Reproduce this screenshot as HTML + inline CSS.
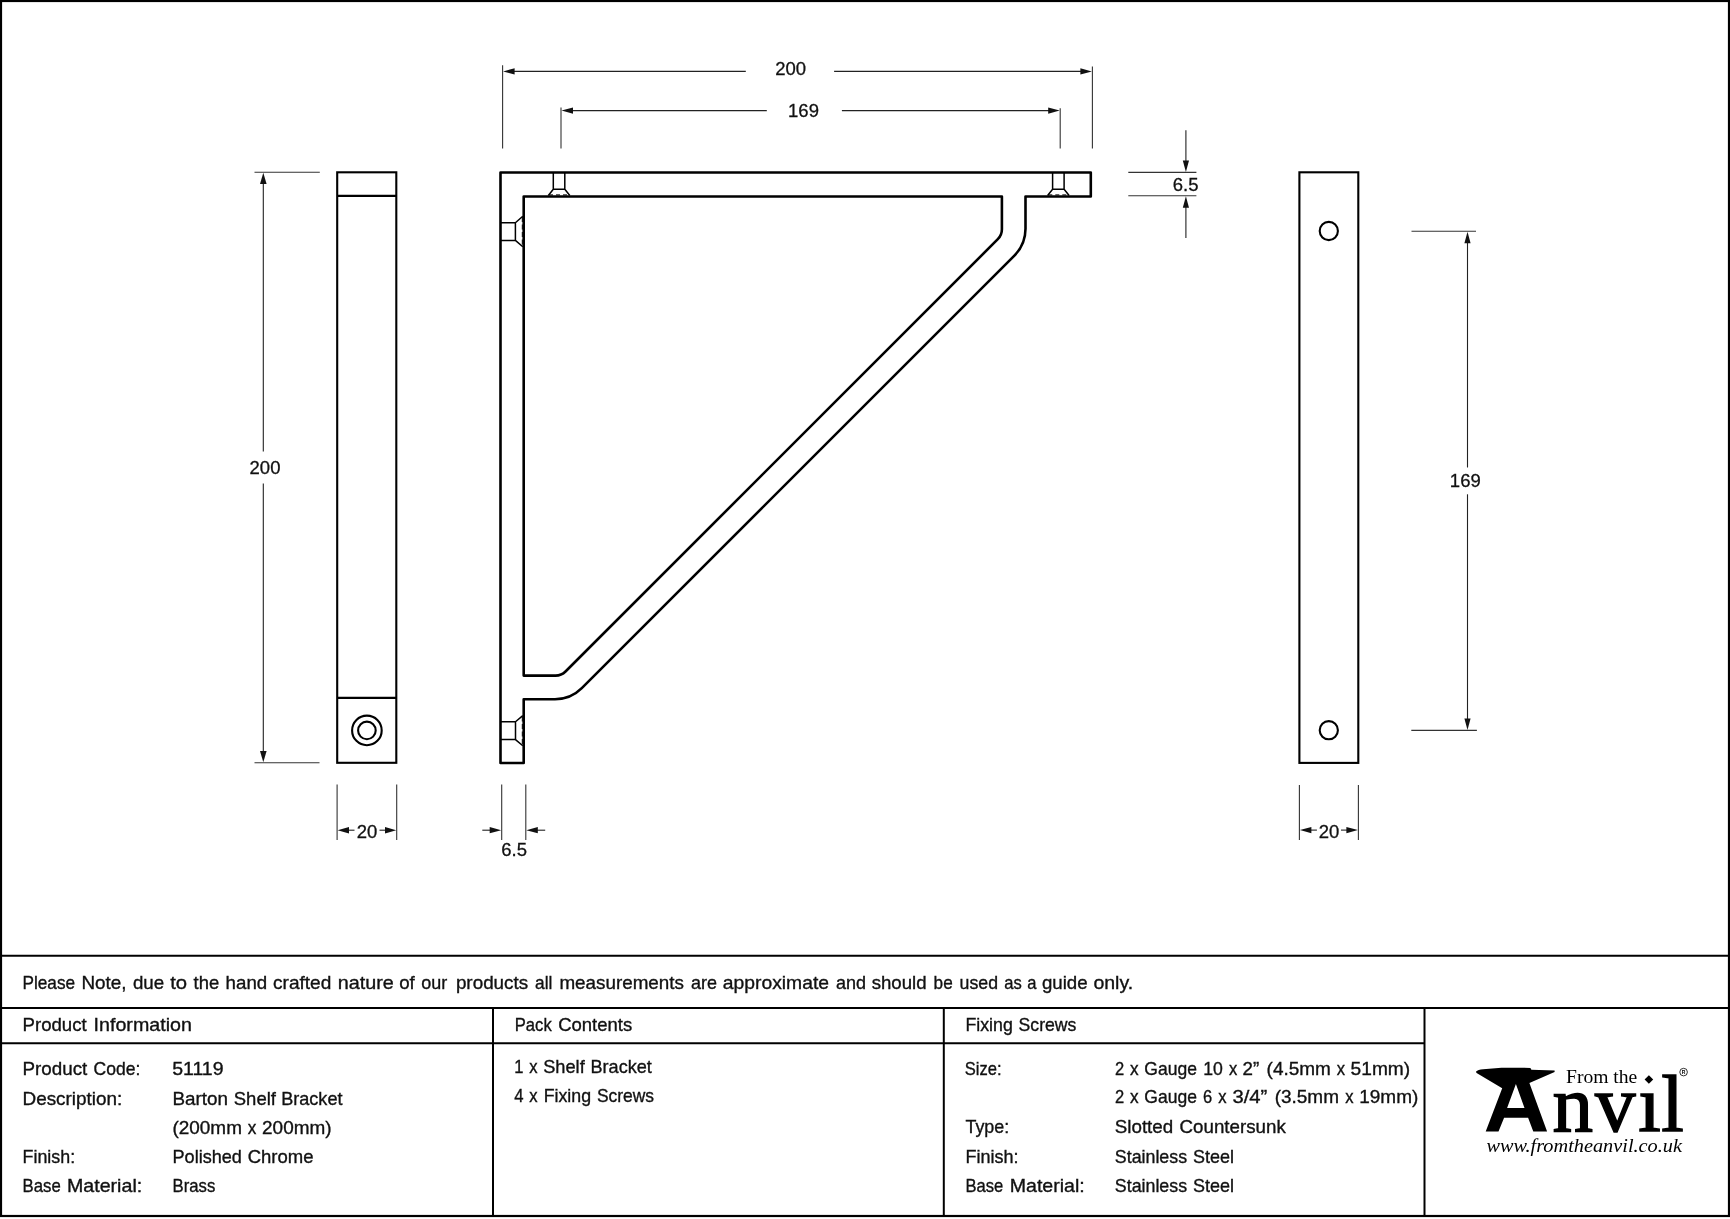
<!DOCTYPE html>
<html><head><meta charset="utf-8"><title>Barton Shelf Bracket</title>
<style>
html,body{margin:0;padding:0;background:#fff;width:1730px;height:1219px;overflow:hidden}
svg{display:block;will-change:transform}
text{font-family:"Liberation Sans",sans-serif;fill:#111}
.dim{stroke:#222;stroke-width:1.1;fill:none}
.ext{stroke:#333;stroke-width:1.1;fill:none}
.thick{stroke:#000;stroke-width:2.6;fill:none;stroke-linejoin:round}
.med{stroke:#000;stroke-width:2.1;fill:none}
.thin{stroke:#000;stroke-width:1.5;fill:none}
.arr{fill:#111;stroke:none}
.tl{stroke:#000;stroke-width:2;fill:none}
.dt{font-size:18.5px;stroke:#111;stroke-width:0.3}
.tt text{font-size:18.4px;stroke:#111;stroke-width:0.35}
text.sf{font-family:"Liberation Serif",serif;fill:#000}
.big text{font-family:"Liberation Serif",serif;font-size:81px;fill:#000;stroke:#000;stroke-width:1.5}
</style></head>
<body>
<svg width="1730" height="1219" viewBox="0 0 1730 1219">
<!-- outer frame -->
<rect x="1" y="1" width="1728" height="1215" fill="none" stroke="#000" stroke-width="2.2"/>

<!-- ===== Left side view ===== -->
<g id="leftview">
<rect class="med" x="337.2" y="172.3" width="59.1" height="590.5"/>
<line class="med" x1="337.2" y1="195.9" x2="396.3" y2="195.9"/>
<line class="med" x1="337.2" y1="697.9" x2="396.3" y2="697.9"/>
<circle class="med" cx="366.9" cy="730.4" r="14.8"/>
<circle class="med" cx="366.9" cy="730.4" r="8.8"/>
<!-- 200 vertical dim -->
<line class="ext" x1="254.5" y1="172.3" x2="319.8" y2="172.3"/>
<line class="ext" x1="254.5" y1="762.7" x2="319.5" y2="762.7"/>
<line class="dim" x1="263.3" y1="180" x2="263.3" y2="451.6"/>
<line class="dim" x1="263.3" y1="483.6" x2="263.3" y2="755"/>
<path class="arr" d="M263.3,172.8 L266.6,184 L260,184 Z"/>
<path class="arr" d="M263.3,762.2 L266.6,751 L260,751 Z"/>
<text class="dt" x="265" y="474" text-anchor="middle">200</text>
<!-- 20 dim -->
<line class="ext" x1="337.1" y1="784.5" x2="337.1" y2="840"/>
<line class="ext" x1="396.7" y1="784.5" x2="396.7" y2="840"/>
<line class="dim" x1="345" y1="830.2" x2="354.5" y2="830.2"/>
<line class="dim" x1="379.5" y1="830.2" x2="389" y2="830.2"/>
<path class="arr" d="M337.6,830.2 L349,827 L349,833.4 Z"/>
<path class="arr" d="M396.2,830.2 L385,827 L385,833.4 Z"/>
<text class="dt" x="367" y="837.6" text-anchor="middle">20</text>
</g>

<!-- ===== Main bracket ===== -->
<g id="bracket">
<path class="thick" d="M500.5,172.5 H1090.8 V196.5 H1025.5 V228.8 A38,38 0 0 1 1014.4,255.6 L581.8,688.2 A38,38 0 0 1 555,699.3 H523.7 V763 H500.5 Z"/>
<path class="thick" d="M523.7,196.5 H1001.9 V229.3 A14,14 0 0 1 997.8,239.2 L565.5,671.5 A14,14 0 0 1 555.6,675.6 H523.7 Z"/>
<!-- top screws -->
<path class="thin" d="M553.3,172.5 V189.3 H564.8 V172.5 M553.3,189.3 L548.3,195.5 M564.8,189.3 L569.8,195.5"/>
<line class="thin" x1="549" y1="194.9" x2="569" y2="194.9" stroke-dasharray="4,3" style="stroke-width:1"/>
<path class="thin" d="M1052.6,172.5 V189.3 H1064.1 V172.5 M1052.6,189.3 L1047.6,195.5 M1064.1,189.3 L1069.1,195.5"/>
<line class="thin" x1="1048.3" y1="194.9" x2="1068.3" y2="194.9" stroke-dasharray="4,3" style="stroke-width:1"/>
<!-- side screws -->
<path class="thin" d="M500.5,222.8 H515.4 V240.4 H500.5 M515.4,222.8 L522.8,216.2 M515.4,240.4 L522.8,246.8"/>
<line class="thin" x1="522.3" y1="217" x2="522.3" y2="246" stroke-dasharray="5,2.5" style="stroke-width:1"/>
<path class="thin" d="M500.5,721.8 H515.5 V739.6 H500.5 M515.5,721.8 L522.8,715.6 M515.5,739.6 L522.8,745.8"/>
<line class="thin" x1="522.3" y1="716.5" x2="522.3" y2="745" stroke-dasharray="5,2.5" style="stroke-width:1"/>
<!-- 200 top dim -->
<line class="ext" x1="502.6" y1="65.3" x2="502.6" y2="148.5"/>
<line class="ext" x1="1092.4" y1="66.5" x2="1092.4" y2="148.5"/>
<line class="dim" x1="510" y1="71.4" x2="745.8" y2="71.4"/>
<line class="dim" x1="834.1" y1="71.4" x2="1085" y2="71.4"/>
<path class="arr" d="M503.1,71.4 L514.6,68.3 L514.6,74.5 Z"/>
<path class="arr" d="M1091.9,71.4 L1080.4,68.3 L1080.4,74.5 Z"/>
<text class="dt" x="790.7" y="74.8" text-anchor="middle">200</text>
<!-- 169 top dim -->
<line class="ext" x1="561" y1="107.5" x2="561" y2="148.5"/>
<line class="ext" x1="1060.2" y1="108.3" x2="1060.2" y2="148.5"/>
<line class="dim" x1="568" y1="110.6" x2="766.8" y2="110.6"/>
<line class="dim" x1="841.9" y1="110.6" x2="1053" y2="110.6"/>
<path class="arr" d="M561.5,110.6 L573,107.5 L573,113.7 Z"/>
<path class="arr" d="M1059.7,110.6 L1048.2,107.5 L1048.2,113.7 Z"/>
<text class="dt" x="803.5" y="116.9" text-anchor="middle">169</text>
<!-- 6.5 right dim -->
<line class="ext" x1="1128.3" y1="172.4" x2="1196.4" y2="172.4"/>
<line class="ext" x1="1128.3" y1="195.8" x2="1196.4" y2="195.8"/>
<line class="dim" x1="1185.9" y1="130.3" x2="1185.9" y2="165"/>
<line class="dim" x1="1185.9" y1="203" x2="1185.9" y2="238"/>
<path class="arr" d="M1185.9,171.9 L1182.8,160.4 L1189,160.4 Z"/>
<path class="arr" d="M1185.9,196.3 L1182.8,207.8 L1189,207.8 Z"/>
<text class="dt" x="1185.7" y="190.7" text-anchor="middle">6.5</text>
<!-- 6.5 bottom dim -->
<line class="ext" x1="501.7" y1="784.5" x2="501.7" y2="840"/>
<line class="ext" x1="525.8" y1="784.5" x2="525.8" y2="840"/>
<line class="dim" x1="482.3" y1="830.2" x2="495" y2="830.2"/>
<line class="dim" x1="532" y1="830.2" x2="545.2" y2="830.2"/>
<path class="arr" d="M501.2,830.2 L489.7,827.1 L489.7,833.3 Z"/>
<path class="arr" d="M526.3,830.2 L537.8,827.1 L537.8,833.3 Z"/>
<text class="dt" x="514.2" y="855.7" text-anchor="middle">6.5</text>
</g>

<!-- ===== Right view ===== -->
<g id="rightview">
<rect class="med" x="1299.4" y="172.3" width="58.9" height="590.6"/>
<circle class="med" cx="1328.8" cy="231" r="9.1"/>
<circle class="med" cx="1328.8" cy="730.2" r="9.1"/>
<line class="ext" x1="1411.5" y1="231.2" x2="1476" y2="231.2"/>
<line class="ext" x1="1411.3" y1="730.4" x2="1476.9" y2="730.4"/>
<line class="dim" x1="1467.5" y1="240" x2="1467.5" y2="467.5"/>
<line class="dim" x1="1467.5" y1="494.3" x2="1467.5" y2="722"/>
<path class="arr" d="M1467.5,231.7 L1470.6,243.2 L1464.4,243.2 Z"/>
<path class="arr" d="M1467.5,729.9 L1470.6,718.4 L1464.4,718.4 Z"/>
<text class="dt" x="1465.3" y="486.9" text-anchor="middle">169</text>
<line class="ext" x1="1299.4" y1="785" x2="1299.4" y2="840"/>
<line class="ext" x1="1358.4" y1="785" x2="1358.4" y2="840"/>
<line class="dim" x1="1306" y1="830.1" x2="1316.9" y2="830.1"/>
<line class="dim" x1="1341" y1="830.1" x2="1352" y2="830.1"/>
<path class="arr" d="M1299.9,830.1 L1311.4,827 L1311.4,833.2 Z"/>
<path class="arr" d="M1357.9,830.1 L1346.4,827 L1346.4,833.2 Z"/>
<text class="dt" x="1329" y="837.5" text-anchor="middle">20</text>
</g>

<!-- ===== Table ===== -->
<g id="table">
<line class="tl" x1="0" y1="955.8" x2="1730" y2="955.8"/>
<line class="tl" x1="0" y1="1007.9" x2="1730" y2="1007.9"/>
<line class="tl" x1="0" y1="1043.2" x2="1424.5" y2="1043.2"/>
<line class="tl" x1="493" y1="1007.9" x2="493" y2="1216"/>
<line class="tl" x1="943.8" y1="1007.9" x2="943.8" y2="1216"/>
<line class="tl" x1="1424.5" y1="1007.9" x2="1424.5" y2="1216"/>
</g>

<g id="ttext" class="tt">
<text x="22.5" y="988.9" textLength="52.6" lengthAdjust="spacingAndGlyphs">Please</text>
<text x="81.5" y="988.9" textLength="45.1" lengthAdjust="spacingAndGlyphs">Note,</text>
<text x="132.9" y="988.9" textLength="31.2" lengthAdjust="spacingAndGlyphs">due</text>
<text x="170.2" y="988.9" textLength="16.9" lengthAdjust="spacingAndGlyphs">to</text>
<text x="193.6" y="988.9" textLength="25.6" lengthAdjust="spacingAndGlyphs">the</text>
<text x="225.6" y="988.9" textLength="41.6" lengthAdjust="spacingAndGlyphs">hand</text>
<text x="273.0" y="988.9" textLength="58.3" lengthAdjust="spacingAndGlyphs">crafted</text>
<text x="337.7" y="988.9" textLength="56.1" lengthAdjust="spacingAndGlyphs">nature</text>
<text x="399.2" y="988.9" textLength="15.6" lengthAdjust="spacingAndGlyphs">of</text>
<text x="421.2" y="988.9" textLength="26.0" lengthAdjust="spacingAndGlyphs">our</text>
<text x="455.9" y="988.9" textLength="72.3" lengthAdjust="spacingAndGlyphs">products</text>
<text x="535.1" y="988.9" textLength="17.3" lengthAdjust="spacingAndGlyphs">all</text>
<text x="559.4" y="988.9" textLength="124.6" lengthAdjust="spacingAndGlyphs">measurements</text>
<text x="691.0" y="988.9" textLength="26.0" lengthAdjust="spacingAndGlyphs">are</text>
<text x="722.8" y="988.9" textLength="106.2" lengthAdjust="spacingAndGlyphs">approximate</text>
<text x="835.9" y="988.9" textLength="30.1" lengthAdjust="spacingAndGlyphs">and</text>
<text x="871.7" y="988.9" textLength="54.9" lengthAdjust="spacingAndGlyphs">should</text>
<text x="933.6" y="988.9" textLength="19.1" lengthAdjust="spacingAndGlyphs">be</text>
<text x="959.6" y="988.9" textLength="38.4" lengthAdjust="spacingAndGlyphs">used</text>
<text x="1004.3" y="988.9" textLength="17.5" lengthAdjust="spacingAndGlyphs">as</text>
<text x="1027.2" y="988.9" textLength="9.2" lengthAdjust="spacingAndGlyphs">a</text>
<text x="1041.9" y="988.9" textLength="45.7" lengthAdjust="spacingAndGlyphs">guide</text>
<text x="1093.4" y="988.9" textLength="39.8" lengthAdjust="spacingAndGlyphs">only.</text>
<text x="22.5" y="1030.7" textLength="64.2" lengthAdjust="spacingAndGlyphs">Product</text>
<text x="93.6" y="1030.7" textLength="98.3" lengthAdjust="spacingAndGlyphs">Information</text>
<text x="514.8" y="1030.7" textLength="36.9" lengthAdjust="spacingAndGlyphs">Pack</text>
<text x="558.2" y="1030.7" textLength="74.0" lengthAdjust="spacingAndGlyphs">Contents</text>
<text x="965.4" y="1030.8" textLength="47.4" lengthAdjust="spacingAndGlyphs">Fixing</text>
<text x="1018.6" y="1030.8" textLength="57.8" lengthAdjust="spacingAndGlyphs">Screws</text>
<text x="22.5" y="1074.6" textLength="64.8" lengthAdjust="spacingAndGlyphs">Product</text>
<text x="93.6" y="1074.6" textLength="46.8" lengthAdjust="spacingAndGlyphs">Code:</text>
<text x="172.2" y="1074.6" textLength="51.4" lengthAdjust="spacingAndGlyphs">51119</text>
<text x="22.5" y="1104.7" textLength="99.8" lengthAdjust="spacingAndGlyphs">Description:</text>
<text x="172.5" y="1104.7" textLength="55.5" lengthAdjust="spacingAndGlyphs">Barton</text>
<text x="233.8" y="1104.7" textLength="42.1" lengthAdjust="spacingAndGlyphs">Shelf</text>
<text x="281.2" y="1104.7" textLength="61.3" lengthAdjust="spacingAndGlyphs">Bracket</text>
<text x="172.5" y="1133.6" textLength="69.4" lengthAdjust="spacingAndGlyphs">(200mm</text>
<text x="247.7" y="1133.6" textLength="8.6" lengthAdjust="spacingAndGlyphs">x</text>
<text x="262.1" y="1133.6" textLength="69.4" lengthAdjust="spacingAndGlyphs">200mm)</text>
<text x="22.5" y="1162.5" textLength="52.6" lengthAdjust="spacingAndGlyphs">Finish:</text>
<text x="172.5" y="1162.5" textLength="69.4" lengthAdjust="spacingAndGlyphs">Polished</text>
<text x="247.7" y="1162.5" textLength="65.9" lengthAdjust="spacingAndGlyphs">Chrome</text>
<text x="22.5" y="1191.7" textLength="38.2" lengthAdjust="spacingAndGlyphs">Base</text>
<text x="67.0" y="1191.7" textLength="75.2" lengthAdjust="spacingAndGlyphs">Material:</text>
<text x="172.5" y="1191.7" textLength="42.8" lengthAdjust="spacingAndGlyphs">Brass</text>
<text x="514.3" y="1072.6" textLength="9.2" lengthAdjust="spacingAndGlyphs">1</text>
<text x="529.2" y="1072.6" textLength="8.3" lengthAdjust="spacingAndGlyphs">x</text>
<text x="543.2" y="1072.6" textLength="41.5" lengthAdjust="spacingAndGlyphs">Shelf</text>
<text x="590.5" y="1072.6" textLength="61.3" lengthAdjust="spacingAndGlyphs">Bracket</text>
<text x="514.2" y="1101.5" textLength="9.3" lengthAdjust="spacingAndGlyphs">4</text>
<text x="529.2" y="1101.5" textLength="8.3" lengthAdjust="spacingAndGlyphs">x</text>
<text x="543.7" y="1101.5" textLength="47.4" lengthAdjust="spacingAndGlyphs">Fixing</text>
<text x="596.9" y="1101.5" textLength="57.2" lengthAdjust="spacingAndGlyphs">Screws</text>
<text x="964.8" y="1074.6" textLength="36.8" lengthAdjust="spacingAndGlyphs">Size:</text>
<text x="965.5" y="1132.7" textLength="43.7" lengthAdjust="spacingAndGlyphs">Type:</text>
<text x="965.5" y="1162.6" textLength="53.0" lengthAdjust="spacingAndGlyphs">Finish:</text>
<text x="965.5" y="1191.9" textLength="37.8" lengthAdjust="spacingAndGlyphs">Base</text>
<text x="1009.7" y="1191.9" textLength="75.1" lengthAdjust="spacingAndGlyphs">Material:</text>
<text x="1114.9" y="1074.8" textLength="9.2" lengthAdjust="spacingAndGlyphs">2</text>
<text x="1129.9" y="1074.8" textLength="8.6" lengthAdjust="spacingAndGlyphs">x</text>
<text x="1144.3" y="1074.8" textLength="52.6" lengthAdjust="spacingAndGlyphs">Gauge</text>
<text x="1203.3" y="1074.8" textLength="19.6" lengthAdjust="spacingAndGlyphs">10</text>
<text x="1228.9" y="1074.8" textLength="8.3" lengthAdjust="spacingAndGlyphs">x</text>
<text x="1242.6" y="1074.8" textLength="16.7" lengthAdjust="spacingAndGlyphs">2&#8221;</text>
<text x="1266.6" y="1074.8" textLength="64.3" lengthAdjust="spacingAndGlyphs">(4.5mm</text>
<text x="1336.8" y="1074.8" textLength="8.3" lengthAdjust="spacingAndGlyphs">x</text>
<text x="1350.6" y="1074.8" textLength="59.6" lengthAdjust="spacingAndGlyphs">51mm)</text>
<text x="1114.9" y="1103.4" textLength="9.2" lengthAdjust="spacingAndGlyphs">2</text>
<text x="1129.9" y="1103.4" textLength="8.6" lengthAdjust="spacingAndGlyphs">x</text>
<text x="1144.3" y="1103.4" textLength="52.6" lengthAdjust="spacingAndGlyphs">Gauge</text>
<text x="1203.0" y="1103.4" textLength="9.2" lengthAdjust="spacingAndGlyphs">6</text>
<text x="1218.2" y="1103.4" textLength="8.3" lengthAdjust="spacingAndGlyphs">x</text>
<text x="1232.4" y="1103.4" textLength="34.9" lengthAdjust="spacingAndGlyphs">3/4&#8221;</text>
<text x="1274.7" y="1103.4" textLength="64.3" lengthAdjust="spacingAndGlyphs">(3.5mm</text>
<text x="1345.2" y="1103.4" textLength="8.3" lengthAdjust="spacingAndGlyphs">x</text>
<text x="1359.2" y="1103.4" textLength="59.1" lengthAdjust="spacingAndGlyphs">19mm)</text>
<text x="1114.8" y="1132.7" textLength="58.4" lengthAdjust="spacingAndGlyphs">Slotted</text>
<text x="1179.6" y="1132.7" textLength="106.2" lengthAdjust="spacingAndGlyphs">Countersunk</text>
<text x="1114.8" y="1162.6" textLength="72.3" lengthAdjust="spacingAndGlyphs">Stainless</text>
<text x="1192.9" y="1162.6" textLength="41.0" lengthAdjust="spacingAndGlyphs">Steel</text>
<text x="1114.8" y="1191.9" textLength="72.3" lengthAdjust="spacingAndGlyphs">Stainless</text>
<text x="1192.9" y="1191.9" textLength="41.0" lengthAdjust="spacingAndGlyphs">Steel</text>
</g>

<!-- ===== Logo ===== -->
<g id="logo">
<path fill="#000" fill-rule="evenodd" d="M1475.9,1071.8 Q1478,1069.6 1483.1,1069.2 L1501.5,1067.7 L1530.4,1067.9 L1531.4,1069.8 L1554.6,1070.5 L1554.6,1072.1 L1529.4,1083 L1547.1,1131.5 L1533.3,1131.5 L1528.1,1117.7 L1504.1,1117.7 L1498.5,1131.5 L1485.7,1131.5 L1502.2,1088.2 L1476.6,1073.1 Z M1515.9,1084 L1507.1,1107.9 L1524.5,1107.9 Z"/>
<text x="1566" y="1083" style="font-family:'Liberation Serif',serif;font-size:19.6px;fill:#000">From the</text>
<path fill="#000" d="M1648.9,1075.2 L1653.2,1079.5 L1648.9,1083.8 L1644.6,1079.5 Z"/>
<g class="big">
<text x="1552.5" y="1131.1">n</text>
<text x="1595" y="1131.1">v</text>
<text x="1638.2" y="1131.1">&#305;</text>
<text x="1661.3" y="1131.1">l</text>
</g>
<circle cx="1683.6" cy="1072.1" r="3.8" fill="none" stroke="#000" stroke-width="0.8"/>
<text x="1683.6" y="1074.2" text-anchor="middle" style="font-family:'Liberation Sans',sans-serif;font-size:5px;fill:#000;font-weight:bold">R</text>
<text x="1486.4" y="1151.6" textLength="195.6" lengthAdjust="spacingAndGlyphs" style="font-family:'Liberation Serif',serif;font-style:italic;font-size:18.5px;fill:#000">www.fromtheanvil.co.uk</text>
</g>
</svg>
</body></html>
